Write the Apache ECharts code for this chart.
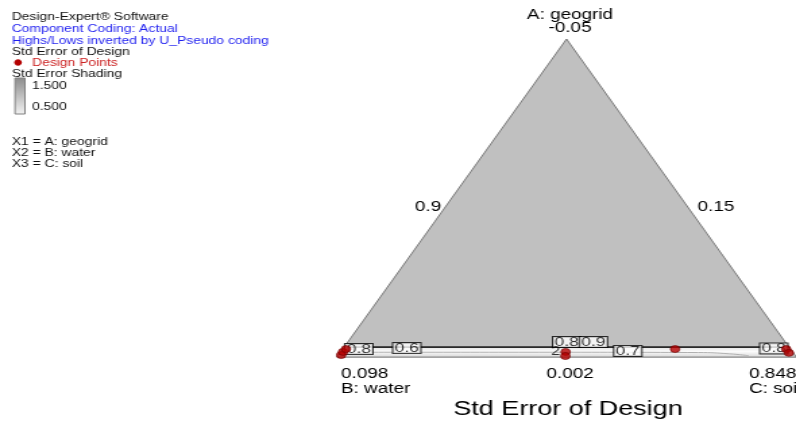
<!DOCTYPE html>
<html>
<head>
<meta charset="utf-8">
<script src="https://cdn.jsdelivr.net/npm/echarts@6/dist/echarts.min.js"></script>
<style>
  html, body { margin: 0; padding: 0; background: #fff; overflow: hidden; }
  #wrap { width: 796px; height: 421px; overflow: hidden; position: relative; }
  /* the plot is laid out narrow and stretched sideways to the page width */
  #chart { width: 590px; height: 421px; transform: scaleX(1.3492); transform-origin: 0 0; }
</style>
</head>
<body>
<div id="wrap"><div id="chart"></div></div>
<script>
// ---- mixture components (pseudo fractions, A + B + C = 1) ----
const componentNames = ['A: geogrid', 'B: water', 'C: soil'];
const vertexTicks = ['-0.05', '0.098', '0.848'];   // A (top), B (left), C (right)
const edgeTicks = ['0.9', '0.15', '0.002'];        // left edge, right edge, base

// ---- design points ----
const designA = [0.006, 0.016, 0.025, 0.016, 0.003, 0.025, 0.025, 0.013];
const designB = [0.988, 0.979, 0.968, 0.494, 0.501, 0.251, 0.009, 0.009];
const designC = [0.006, 0.005, 0.007, 0.490, 0.496, 0.724, 0.966, 0.978];

// ---- std error contour labels ----
const contourValues = ['0.8', '0.6', '0.8', '0.9', '0.7', '0.8'];
const contourA = [0.025, 0.028, 0.047, 0.047, 0.019, 0.027];
const contourC = [0.035, 0.138, 0.477, 0.535, 0.624, 0.938];
const replicateCount = ['2'];
const replicateA = [0.016];
const replicateC = [0.468];

// ---- low std error band along the B-C edge ----
const bandTopA = 0.031;
const innerContourA = [0.015, 0.015, 0.014, 0.010, 0.004];
const innerContourC = [0.020, 0.500, 0.780, 0.850, 0.895];

// ---- shading legend range ----
const shadeRange = ['1.500', '0.500'];

const S = 796 / 590;   // horizontal stretch of the chart element

// ternary (A, C) -> cartesian, B at the left corner, C at the right, A on top
function toXY(a, c) { return [c + a / 2, a]; }

const triangle = [[1, 0], [0, 0], [0, 1]];             // [A, C] of the three vertices
const band = [[0, 0], [0, 1], [bandTopA, 1 - bandTopA], [bandTopA, 0]];

function polygonSeries(verts, style, z) {
  return {
    type: 'custom',
    coordinateSystem: 'cartesian2d',
    z: z,
    silent: true,
    data: [toXY(verts[0][0], verts[0][1])],
    renderItem: function (params, api) {
      const pts = verts.map(v => api.coord(toXY(v[0], v[1])));
      return { type: 'polygon', shape: { points: pts }, style: style };
    }
  };
}

function px(x) { return x / S; }
function txt(x, y, text, size, color, align) {
  return {
    type: 'text', x: px(x), y: y, silent: true,
    style: {
      text: text, fill: color || '#000',
      font: (size || 12) + 'px "Liberation Sans", Arial, sans-serif',
      align: align || 'left', verticalAlign: 'middle'
    }
  };
}

const INFO = 10.3;   // font size of the header block

const chart = echarts.init(document.getElementById('chart'), null, { renderer: 'canvas' });

const option = {
  animation: false,
  backgroundColor: '#fff',
  grid: { left: px(337), top: 39, width: px(803) - px(337), height: 318 },
  xAxis: { type: 'value', min: 0, max: 1, show: false },
  yAxis: { type: 'value', min: 0, max: 1, show: false },
  series: [
    polygonSeries(triangle, { fill: '#c0c0c0', stroke: '#7a7a7a', lineWidth: 1 }, 1),
    polygonSeries(band, {
      fill: new echarts.graphic.LinearGradient(0, 0, 0, 1, [
        { offset: 0, color: '#e4e4e4' },
        { offset: 0.45, color: '#fbfbfb' },
        { offset: 1, color: '#d6d6d6' }
      ]),
      stroke: '#8a8a8a', lineWidth: 1
    }, 2),
    {
      type: 'line', z: 3, silent: true, symbol: 'none',
      lineStyle: { color: '#2a2a2a', width: 1.6 },
      data: [toXY(bandTopA, 0), toXY(bandTopA, 1 - bandTopA)]
    },
    {
      type: 'line', z: 3, silent: true, symbol: 'none', smooth: true,
      lineStyle: { color: '#b0b0b0', width: 1 },
      data: innerContourA.map((a, i) => toXY(a, innerContourC[i]))
    },
    {
      type: 'scatter', z: 4, silent: true, symbolSize: 0,
      data: contourValues.map((v, i) => toXY(contourA[i], contourC[i]).concat([v])),
      label: {
        show: true, position: 'inside',
        formatter: p => p.value[2],
        fontFamily: '"Liberation Sans", Arial, sans-serif',
        fontSize: 13, lineHeight: 10, color: '#000',
        backgroundColor: '#fff', borderColor: '#000', borderWidth: 1,
        padding: [0, 1, 0, 1]
      }
    },
    {
      type: 'scatter', z: 4, silent: true, symbolSize: 0,
      data: replicateCount.map((v, i) => toXY(replicateA[i], replicateC[i]).concat([v])),
      label: {
        show: true, position: 'inside', formatter: p => p.value[2],
        fontFamily: '"Liberation Sans", Arial, sans-serif', fontSize: 12, color: '#000'
      }
    },
    {
      type: 'scatter', z: 5, silent: true,
      symbol: 'circle', symbolSize: 7,
      itemStyle: { color: '#b40000', borderColor: '#6e0000', borderWidth: 0.8 },
      data: designA.map((a, i) => toXY(a, designC[i]))
    }
  ],
  graphic: [
    // header block
    txt(11.7, 17, 'Design-Expert® Software', INFO, '#111'),
    txt(11.7, 29, 'Component Coding: Actual', INFO, '#1f1ff0'),
    txt(11.7, 41, 'Highs/Lows inverted by U_Pseudo coding', INFO, '#1f1ff0'),
    txt(11.7, 52, 'Std Error of Design', INFO, '#111'),
    {
      type: 'ellipse', silent: true,
      shape: { cx: px(18), cy: 62.5, rx: 2.8, ry: 3.2 },
      style: { fill: '#b40000' }
    },
    txt(32, 63, 'Design Points', INFO, '#cc2222'),
    txt(11.7, 74, 'Std Error Shading', INFO, '#111'),
    {
      type: 'rect', silent: true,
      shape: { x: px(15), y: 78, width: px(25) - px(15), height: 36 },
      style: {
        fill: new echarts.graphic.LinearGradient(0, 0, 0, 1, [
          { offset: 0, color: '#8c8c8c' },
          { offset: 1, color: '#f2f2f2' }
        ]),
        stroke: '#808080', lineWidth: 1
      }
    },
    txt(32, 86, shadeRange[0], INFO, '#111'),
    txt(32, 107, shadeRange[1], INFO, '#111'),
    txt(11.7, 142, 'X1 = ' + componentNames[0], INFO, '#111'),
    txt(11.7, 153, 'X2 = ' + componentNames[1], INFO, '#111'),
    txt(11.7, 164, 'X3 = ' + componentNames[2], INFO, '#111'),

    // vertex and edge labels
    txt(570, 15, componentNames[0], 14, '#000', 'center'),
    txt(570, 28, vertexTicks[0], 14, '#000', 'center'),
    txt(428, 207, edgeTicks[0], 14, '#000', 'center'),
    txt(716, 207, edgeTicks[1], 14, '#000', 'center'),
    txt(341, 374, vertexTicks[1], 14, '#000'),
    txt(341, 389, componentNames[1], 14, '#000'),
    txt(570, 374, edgeTicks[2], 14, '#000', 'center'),
    txt(749, 374, vertexTicks[2], 14, '#000'),
    txt(749, 389, componentNames[2], 14, '#000'),
    txt(568, 409, 'Std Error of Design', 20, '#000', 'center')
  ]
};

chart.setOption(option);
</script>
</body>
</html>
